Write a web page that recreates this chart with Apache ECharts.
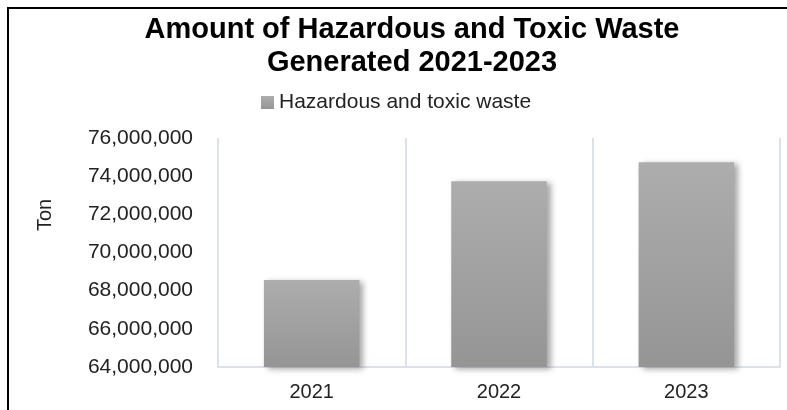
<!DOCTYPE html>
<html>
<head>
<meta charset="utf-8">
<script src="https://cdn.jsdelivr.net/npm/echarts@6/dist/echarts.min.js"></script>
<style>
  html, body { margin: 0; padding: 0; background: #fff; }
  #chart1 { width: 787px; height: 410px; }
</style>
</head>
<body>
<div id="chart1"></div>
<script>
var years = ['2021', '2022', '2023'];
var wasteTon = [68560000, 73740000, 74730000];
var seriesName = 'Hazardous and toxic waste';

var myChart1 = echarts.init(document.getElementById('chart1'));
var font = '"Liberation Sans", Arial, sans-serif';
var grayFill = new echarts.graphic.LinearGradient(0, 0, 0, 1, [
    { offset: 0, color: '#adadad' },
    { offset: 1, color: '#959595' }
]);

myChart1.setOption({
    animation: false,
    title: {
        text: 'Amount of Hazardous and Toxic Waste\nGenerated 2021-2023',
        left: 407,
        top: 8,
        textAlign: 'center',
        textStyle: {
            fontFamily: font,
            fontSize: 29,
            fontWeight: 'bold',
            color: '#000',
            lineHeight: 33
        }
    },
    legend: {
        data: [seriesName],
        left: 256,
        top: 87,
        itemWidth: 13,
        itemHeight: 13,
        itemGap: 4,
        icon: 'rect',
        textStyle: { fontFamily: font, fontSize: 21, color: '#222' }
    },
    graphic: [
        {
            type: 'rect',
            shape: { x: 8, y: 8, width: 800, height: 420 },
            style: { fill: 'none', stroke: '#000', lineWidth: 2 },
            silent: true
        },
        {
            type: 'text',
            x: 45,
            y: 215,
            rotation: Math.PI / 2,
            style: {
                text: 'Ton',
                font: '20px ' + font,
                fill: '#222',
                align: 'center',
                verticalAlign: 'middle'
            }
        }
    ],
    grid: { left: 218, right: 7, top: 138, bottom: 43 },
    xAxis: {
        type: 'category',
        data: years,
        axisLine: { lineStyle: { color: '#dde1e8', width: 2 } },
        axisTick: { show: false },
        splitLine: { show: true, lineStyle: { color: '#dde1e8', width: 2 } },
        axisLabel: { fontFamily: font, fontSize: 20, color: '#222', margin: 15 }
    },
    yAxis: {
        type: 'value',
        min: 64000000,
        max: 76000000,
        interval: 2000000,
        axisLine: { show: false },
        axisTick: { show: false },
        splitLine: { show: false },
        axisLabel: {
            fontFamily: font,
            fontSize: 21,
            color: '#222',
            margin: 25,
            formatter: function (v) { return v.toLocaleString('en-US'); }
        }
    },
    series: [
        {
            type: 'bar',
            name: seriesName,
            data: wasteTon,
            barWidth: '51%',
            itemStyle: {
                color: grayFill,
                shadowColor: 'rgba(0,0,0,0.35)',
                shadowBlur: 6,
                shadowOffsetX: 4,
                shadowOffsetY: 2
            }
        }
    ]
});

window.onresize = function () {
    myChart1.resize();
};
</script>
</body>
</html>
